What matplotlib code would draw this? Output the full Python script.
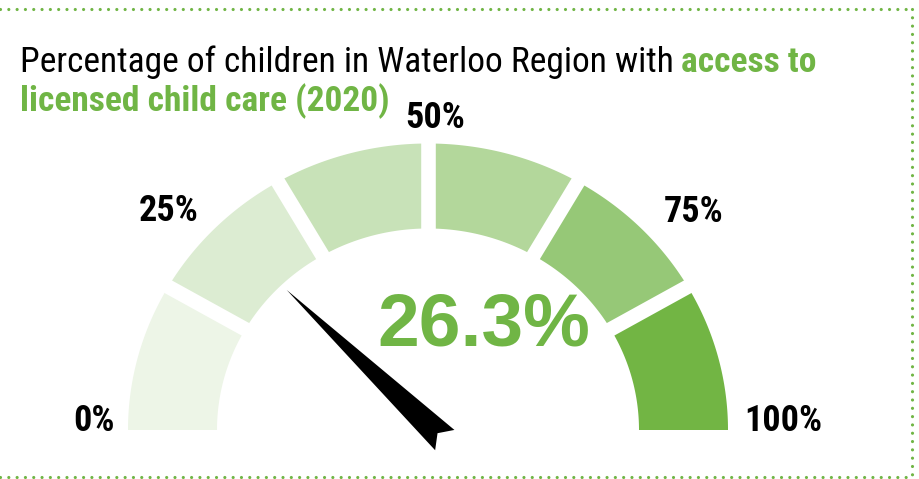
import numpy as np
import matplotlib
matplotlib.use("Agg")
import matplotlib.pyplot as plt
from matplotlib import font_manager
from matplotlib.patches import Polygon

# data
value = 26.3
tick_values = [0, 25, 50, 75, 100]
tick_labels = ["0%", "25%", "50%", "75%", "100%"]
segment_edges = [0, 16.67, 33.33, 50, 66.67, 83.33, 100]
segment_colors = ["#EDF5E7", "#DCECD2", "#C8E2B8", "#B3D79B", "#96C877", "#72B544"]

GREEN = "#70B545"

# pick a condensed face if one is installed, else Liberation Sans
installed = {f.name for f in font_manager.fontManager.ttflist}
narrow = "Liberation Sans"
for cand in ["Liberation Sans Narrow", "Roboto Condensed", "DejaVu Sans Condensed",
             "Open Sans Condensed", "Noto Sans Display"]:
    if cand in installed:
        narrow = cand
        break
NARROW = [narrow, "DejaVu Sans"]
WIDE = ["Liberation Sans", "DejaVu Sans"]

fig = plt.figure(figsize=(9.19, 4.79), dpi=100)
ax = fig.add_axes([0, 0, 1, 1])
ax.set_xlim(0, 919)
ax.set_ylim(479, 0)
ax.axis("off")

# gauge geometry (pixel space, y down)
cx, cy = 428, 430
R_out, R_in, ky = 300, 211, 0.955


def ang(v):
    return np.pi * (1 - v / 100.0)


def pt(r, a):
    return cx + r * np.cos(a), cy - r * ky * np.sin(a)


for v0, v1, col in zip(segment_edges[:-1], segment_edges[1:], segment_colors):
    a = np.linspace(ang(v0), ang(v1), 60)
    outer = np.column_stack(pt(R_out, a))
    inner = np.column_stack(pt(R_in, a[::-1]))
    ax.add_patch(Polygon(np.vstack([outer, inner]), closed=True,
                         facecolor=col, edgecolor="none"))

# white gaps between segments
for v in segment_edges[1:-1]:
    a = ang(v)
    x0, y0 = pt(R_in - 10, a)
    x1, y1 = pt(R_out + 10, a)
    ax.plot([x0, x1], [y0, y1], color="white", lw=10.5, solid_capstyle="butt")

# needle
a = ang(value) + np.radians(2.5)
ux, uy = np.cos(a), -ky * np.sin(a)
n = np.hypot(ux, uy)
ux, uy = ux / n, uy / n
px, py = -uy, ux
base_x, base_y = cx + 3, cy - 3


def npt(along, side):
    return (base_x + along * ux + side * px, base_y + along * uy + side * py)


needle = [npt(199, 0), npt(-19, 14), npt(-9, 0), npt(-19, -14)]
ax.add_patch(Polygon(needle, closed=True, facecolor="black", edgecolor="none"))

# big value
ax.text(484, 345, f"{value}%", ha="center", va="baseline", fontsize=54,
        fontweight="bold", family=WIDE, color=GREEN)

# title, sized so the first line spans the same width as the original
fs = 24.5
t1 = ax.text(20, 72, "Percentage of children in Waterloo Region with",
             ha="left", va="baseline", fontsize=fs, family=NARROW, color="black")
t2 = ax.text(0, 72, "access to", ha="left", va="baseline", fontsize=fs,
             fontweight="bold", family=NARROW, color=GREEN)
fig.canvas.draw()
w = t1.get_window_extent().width + t2.get_window_extent().width + 7
fs = fs * 797 / w
t1.set_fontsize(fs)
t2.set_fontsize(fs)
fig.canvas.draw()
bb = t1.get_window_extent()
x_end = ax.transData.inverted().transform((bb.x1, bb.y0))[0]
t2.set_x(x_end + 7 * fs / 24.5)
ax.text(20, 111, "licensed child care (2020)", ha="left", va="baseline",
        fontsize=fs, fontweight="bold", family=NARROW, color=GREEN)

# tick labels
lab_fs = 26 if narrow != "Liberation Sans" else 22
label_pos = [(94, 431), (169, 221), (435, 128), (694, 222), (783, 431)]
for lab, (x, y) in zip(tick_labels, label_pos):
    ax.text(x, y, lab, ha="center", va="baseline", fontsize=lab_fs,
            fontweight="bold", family=NARROW, color="black")

# dotted frame
dot = dict(color=GREEN, lw=2.3, linestyle=(0, (0.001, 2.6)),
           dash_capstyle="round", solid_capstyle="round")
ax.plot([0, 912], [9, 9], **dot)
ax.plot([912, 912], [9, 477], **dot)
ax.plot([0, 912], [477, 477], **dot)

fig.savefig("out.png", dpi=100)
